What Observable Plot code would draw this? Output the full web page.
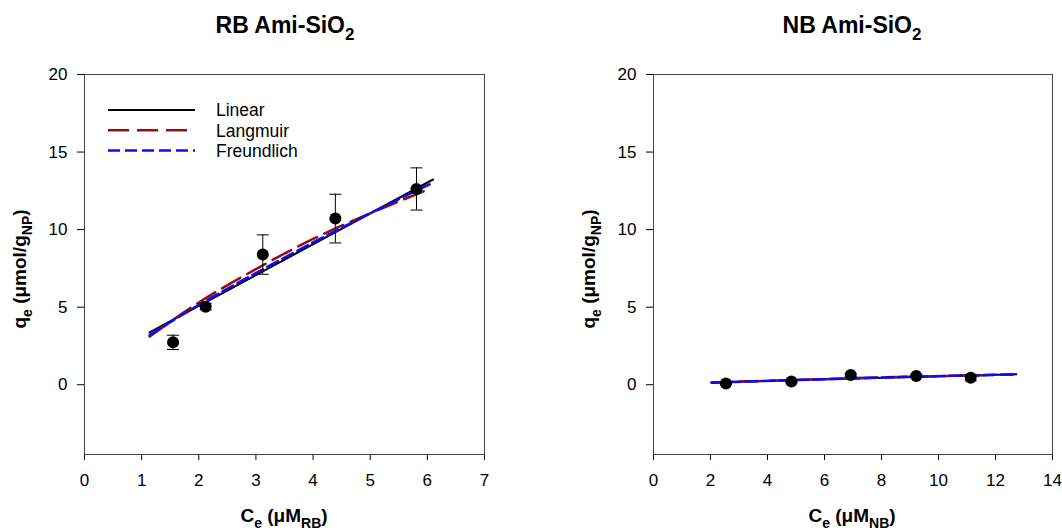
<!DOCTYPE html>
<html>
<head>
<meta charset="utf-8">
<script src="https://cdn.jsdelivr.net/npm/d3@7"></script>
<script src="https://cdn.jsdelivr.net/npm/@observablehq/plot@0.6"></script>
<style>
  html, body { margin: 0; padding: 0; background: white; }
  #wrap { width: 1062px; height: 532px; display: flex; }
  #wrap > svg { flex: none; }
</style>
</head>
<body>
<div id="wrap"></div>
<script>
// ---------- data ----------
const rbCe = [1.55, 2.12, 3.12, 4.39, 5.81];
const rbQe = [2.73, 5.03, 8.39, 10.71, 12.62];
const rbErr = [0.46, 0.20, 1.27, 1.57, 1.36];

const rbLinearX = [1.14, 6.10];
const rbLinearY = [3.37, 13.23];
const rbLangmuirX = [1.14, 2, 3, 4, 5, 5.96];
const rbLangmuirY = [3.10, 5.30, 7.45, 9.40, 11.05, 12.50];
const rbFreundlichX = [1.14, 2, 3, 4, 5, 6.10];
const rbFreundlichY = [3.20, 5.15, 7.20, 9.17, 11.05, 13.03];

const nbCe = [2.54, 4.84, 6.92, 9.22, 11.13];
const nbQe = [0.08, 0.21, 0.63, 0.56, 0.45];
const nbErr = [0.05, 0.08, 0.10, 0.10, 0.20];

const nbLinearX = [2.04, 12.73];
const nbLinearY = [0.15, 0.67];
const nbLangmuirX = [2.04, 7, 12.60];
const nbLangmuirY = [0.14, 0.42, 0.65];
const nbFreundlichX = [2.04, 7, 12.73];
const nbFreundlichY = [0.13, 0.41, 0.67];

const rbXTicks = [0, 1, 2, 3, 4, 5, 6, 7];
const nbXTicks = [0, 2, 4, 6, 8, 10, 12, 14];
const yTicks = [0, 5, 10, 15, 20];

const seriesNames = ["Linear", "Langmuir", "Freundlich"];

// ---------- helpers ----------
const FONT = "'Liberation Sans', Arial, Helvetica, sans-serif";
const pts = (xs, ys, es) => xs.map((x, i) => ({x, y: ys[i], e: es ? es[i] : 0}));
const cap = {
  draw(ctx, size) {
    const w = Math.sqrt(size / Math.PI);
    ctx.moveTo(-w, 0);
    ctx.lineTo(w, 0);
  }
};
const styles = {
  Linear: {stroke: "black", strokeWidth: 2},
  Langmuir: {stroke: "#9a0c0c", strokeWidth: 2.5, strokeDasharray: "21,8"},
  Freundlich: {stroke: "#0a0aff", strokeWidth: 2.5, strokeDasharray: "12,5"}
};

function panel({xDomain, xTicks, marginLeft, marginRight, obs, fits}) {
  const marks = [
    Plot.frame({stroke: "#444", strokeWidth: 1}),
  ];
  seriesNames.forEach((name, i) => {
    marks.push(Plot.line(fits[i], {x: "x", y: "y", curve: "monotone-x", ...styles[name]}));
  });
  marks.push(
    Plot.ruleX(obs, {x: "x", y1: d => d.y - d.e, y2: d => d.y + d.e, stroke: "black", strokeWidth: 1}),
    Plot.dot(obs, {x: "x", y: d => d.y + d.e, symbol: cap, r: 6, stroke: "black", strokeWidth: 1}),
    Plot.dot(obs, {x: "x", y: d => d.y - d.e, symbol: cap, r: 6, stroke: "black", strokeWidth: 1}),
    Plot.dot(obs, {x: "x", y: "y", r: 6, fill: "black", stroke: "none"})
  );
  return Plot.plot({
    width: 531,
    height: 532,
    marginTop: 74,
    marginBottom: 78,
    marginLeft,
    marginRight,
    style: {fontSize: "17px", fontFamily: FONT, background: "white", color: "black", overflow: "visible"},
    x: {domain: xDomain, ticks: xTicks, tickFormat: d => String(d), tickSize: 6, tickPadding: 13, label: null},
    y: {domain: [-4.5, 20], ticks: yTicks, tickFormat: d => String(d), tickSize: 7, tickPadding: 10, label: null},
    marks
  });
}

function richText(svg, {x, y, size, weight = "bold", rotate = false, parts}) {
  const t = d3.select(svg).append("text")
    .attr("text-anchor", "middle")
    .attr("font-family", FONT)
    .attr("font-size", size)
    .attr("font-weight", weight)
    .attr("fill", "black");
  if (rotate) t.attr("transform", `translate(${x},${y}) rotate(-90)`);
  else t.attr("x", x).attr("y", y);
  let shift = 0;
  parts.forEach(([s, sub]) => {
    const want = sub ? size * 0.3 : 0;
    t.append("tspan")
      .attr("dy", want - shift)
      .attr("font-size", sub ? Math.round(size * 0.72) : size)
      .text(s);
    shift = want;
  });
}

// ---------- left panel ----------
const left = panel({
  xDomain: [0, 7], xTicks: rbXTicks, marginLeft: 84, marginRight: 47,
  obs: pts(rbCe, rbQe, rbErr),
  fits: [pts(rbLinearX, rbLinearY), pts(rbLangmuirX, rbLangmuirY), pts(rbFreundlichX, rbFreundlichY)]
});
richText(left, {x: 285, y: 33, size: 23, parts: [["RB Ami-SiO"], ["2", true]]});
richText(left, {x: 284, y: 522, size: 19, parts: [["C"], ["e", true], [" (μM"], ["RB", true], [")"]]});
richText(left, {x: 26, y: 269, size: 19, rotate: true, parts: [["q"], ["e", true], [" (μmol/g"], ["NP", true], [")"]]});

// legend
const lg = d3.select(left).append("g")
  .attr("font-family", FONT).attr("font-size", 17.5).attr("text-anchor", "start");
seriesNames.forEach((name, i) => {
  const yy = 110 + i * 20.3;
  const s = styles[name];
  lg.append("line").attr("x1", 108).attr("x2", 195).attr("y1", yy).attr("y2", yy)
    .attr("stroke", s.stroke).attr("stroke-width", s.strokeWidth)
    .attr("stroke-dasharray", s.strokeDasharray || null);
  lg.append("text").attr("x", 216).attr("y", yy).attr("dy", "0.36em")
    .attr("text-anchor", "start").attr("fill", "black").text(name);
});

// ---------- right panel ----------
const right = panel({
  xDomain: [0, 14], xTicks: nbXTicks, marginLeft: 122, marginRight: 10,
  obs: pts(nbCe, nbQe, nbErr),
  fits: [pts(nbLinearX, nbLinearY), pts(nbLangmuirX, nbLangmuirY), pts(nbFreundlichX, nbFreundlichY)]
});
richText(right, {x: 321, y: 33, size: 23, parts: [["NB Ami-SiO"], ["2", true]]});
richText(right, {x: 321, y: 522, size: 19, parts: [["C"], ["e", true], [" (μM"], ["NB", true], [")"]]});
richText(right, {x: 64, y: 269, size: 19, rotate: true, parts: [["q"], ["e", true], [" (μmol/g"], ["NP", true], [")"]]});

document.getElementById("wrap").append(left, right);
</script>
</body>
</html>
